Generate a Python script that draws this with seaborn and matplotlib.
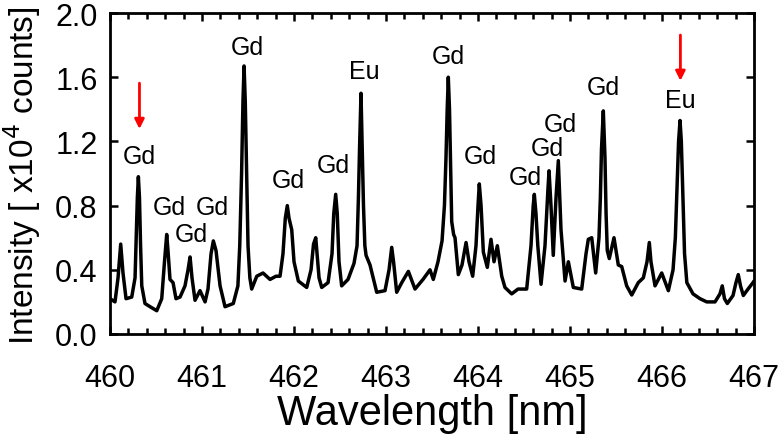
import numpy as np
import pandas as pd
import seaborn as sns
import matplotlib.pyplot as plt
from matplotlib.ticker import MultipleLocator

# spectrum
wavelength = [
    460.000, 460.054, 460.087, 460.116, 460.141, 460.174, 460.236, 460.272, 460.285, 460.297,
    460.308, 460.320, 460.332, 460.345, 460.380, 460.435, 460.508, 460.562, 460.592, 460.616,
    460.630, 460.652, 460.685, 460.717, 460.761, 460.815, 460.848, 460.870, 460.891, 460.924,
    460.978, 461.033, 461.065, 461.098, 461.123, 461.152, 461.196, 461.250, 461.340, 461.390,
    461.410, 461.430, 461.445, 461.457, 461.470, 461.485, 461.500, 461.520, 461.540, 461.595,
    461.663, 461.739, 461.804, 461.848, 461.880, 461.905, 461.927, 461.946, 461.975, 462.000,
    462.047, 462.138, 462.185, 462.212, 462.236, 462.250, 462.272, 462.301, 462.370, 462.413,
    462.432, 462.453, 462.470, 462.489, 462.518, 462.587, 462.652, 462.685, 462.700, 462.712,
    462.728, 462.742, 462.755, 462.770, 462.783, 462.826, 462.899, 462.989, 463.033, 463.062,
    463.082, 463.116, 463.171, 463.243, 463.315, 463.402, 463.478, 463.514, 463.565, 463.609,
    463.635, 463.652, 463.665, 463.677, 463.690, 463.702, 463.714, 463.735, 463.750, 463.786,
    463.826, 463.870, 463.902, 463.942, 463.978, 464.000, 464.014, 464.033, 464.058, 464.101,
    464.141, 464.174, 464.210, 464.258, 464.293, 464.366, 464.435, 464.529, 464.576, 464.600,
    464.612, 464.630, 464.650, 464.685, 464.728, 464.760, 464.772, 464.793, 464.818, 464.848,
    464.873, 464.902, 464.946, 464.982, 465.036, 465.127, 465.174, 465.199, 465.236, 465.279,
    465.315, 465.330, 465.342, 465.362, 465.380, 465.392, 465.405, 465.427, 465.478, 465.525,
    465.562, 465.616, 465.671, 465.742, 465.797, 465.837, 465.862, 465.880, 465.924, 465.997,
    466.069, 466.120, 466.145, 466.165, 466.180, 466.196, 466.210, 466.225, 466.245, 466.270,
    466.337, 466.413, 466.486, 466.576, 466.630, 466.655, 466.679, 466.710, 466.772, 466.804,
    466.829, 466.853, 466.884, 466.935, 466.989, 467.000,
]
intensity = [
    0.22, 0.20, 0.35, 0.56, 0.38, 0.22, 0.23, 0.35, 0.60, 0.85,
    0.98, 0.85, 0.55, 0.30, 0.19, 0.17, 0.145, 0.22, 0.45, 0.62,
    0.52, 0.34, 0.32, 0.22, 0.23, 0.30, 0.40, 0.48, 0.35, 0.21,
    0.27, 0.20, 0.28, 0.50, 0.58, 0.52, 0.30, 0.17, 0.19, 0.30,
    0.55, 1.00, 1.45, 1.67, 1.45, 1.00, 0.55, 0.35, 0.28, 0.36,
    0.38, 0.34, 0.36, 0.36, 0.50, 0.72, 0.80, 0.72, 0.65, 0.45,
    0.33, 0.29, 0.40, 0.56, 0.60, 0.50, 0.35, 0.29, 0.32, 0.50,
    0.75, 0.87, 0.75, 0.45, 0.30, 0.34, 0.44, 0.55, 0.85, 1.15,
    1.50, 1.15, 0.80, 0.55, 0.49, 0.43, 0.26, 0.27, 0.40, 0.54,
    0.45, 0.26, 0.32, 0.39, 0.28, 0.34, 0.40, 0.34, 0.45, 0.58,
    0.80, 1.10, 1.40, 1.60, 1.40, 1.05, 0.70, 0.62, 0.60, 0.37,
    0.43, 0.57, 0.45, 0.36, 0.55, 0.80, 0.935, 0.80, 0.51, 0.415,
    0.59, 0.45, 0.55, 0.36, 0.29, 0.25, 0.28, 0.28, 0.55, 0.80,
    0.87, 0.75, 0.55, 0.31, 0.55, 0.90, 1.017, 0.80, 0.49, 0.85,
    1.08, 0.65, 0.33, 0.45, 0.29, 0.28, 0.50, 0.59, 0.60, 0.38,
    0.60, 0.85, 1.15, 1.39, 1.10, 0.75, 0.52, 0.47, 0.60, 0.43,
    0.42, 0.30, 0.243, 0.32, 0.35, 0.45, 0.57, 0.45, 0.30, 0.38,
    0.27, 0.40, 0.60, 0.95, 1.20, 1.33, 1.20, 0.90, 0.50, 0.32,
    0.25, 0.22, 0.20, 0.20, 0.25, 0.30, 0.22, 0.19, 0.24, 0.32,
    0.37, 0.30, 0.24, 0.28, 0.32, 0.33,
]

# peak labels: text, x, y
label_text = ["Gd", "Gd", "Gd", "Gd", "Gd", "Gd", "Gd", "Eu", "Gd", "Gd", "Gd", "Gd", "Gd", "Gd", "Eu"]
label_x = [460.32, 460.64, 460.88, 461.11, 461.49, 461.94, 462.43, 462.76, 463.68, 464.03, 464.51, 464.75, 464.89, 465.36, 466.2]
label_y = [1.11, 0.79, 0.62, 0.79, 1.79, 0.96, 1.05, 1.64, 1.73, 1.11, 0.98, 1.16, 1.31, 1.54, 1.46]

# red arrows: x, start y, end y
arrow_x = [460.32, 466.2]
arrow_y0 = [1.58, 1.88]
arrow_y1 = [1.26, 1.56]

df = pd.DataFrame({"wl": wavelength, "I": intensity})

sns.set_style("ticks")
plt.rcParams['font.family'] = ['Liberation Sans', 'DejaVu Sans']
plt.rcParams['text.color'] = 'black'
plt.rcParams['axes.labelcolor'] = 'black'
plt.rcParams['xtick.color'] = 'black'
plt.rcParams['ytick.color'] = 'black'
plt.rcParams['axes.edgecolor'] = 'black'

fig = plt.figure(figsize=(7.82, 4.35), dpi=100)
ax = fig.add_axes([0.1407, 0.2299, 0.8235, 0.7379])

sns.lineplot(data=df, x="wl", y="I", sort=False, color="black", linewidth=2.5, ax=ax)

for t, x, y in zip(label_text, label_x, label_y):
    ax.text(x, y, t, fontsize=18, ha="center", va="center")

for x, y0, y1 in zip(arrow_x, arrow_y0, arrow_y1):
    ax.annotate("", xy=(x, y1), xytext=(x, y0),
                arrowprops=dict(arrowstyle="-|>", color="red", lw=2, mutation_scale=14))

ax.set_xlim(460, 467)
ax.set_ylim(0, 2.0)
ax.xaxis.set_major_locator(MultipleLocator(1))
ax.xaxis.set_minor_locator(MultipleLocator(0.2))
ax.yaxis.set_major_locator(MultipleLocator(0.4))
ax.tick_params(which="both", direction="in", top=True, right=True, width=1.8, labelsize=22)
ax.tick_params(which="major", length=6)
ax.tick_params(which="minor", length=4)
ax.tick_params(axis="x", which="major", pad=21)
ax.tick_params(axis="y", which="major", pad=9)
ax.yaxis.set_major_formatter(plt.FormatStrFormatter("%.1f"))
for s in ax.spines.values():
    s.set_linewidth(2)

ax.set_xlabel("Wavelength [nm]", fontsize=30)
ax.set_ylabel("Intensity [ x10$^4$ counts]", fontsize=24)
ax.xaxis.set_label_coords(0.5, -0.185)
ax.yaxis.set_label_coords(-0.104, 0.495)

fig.savefig("out.png", dpi=100)
